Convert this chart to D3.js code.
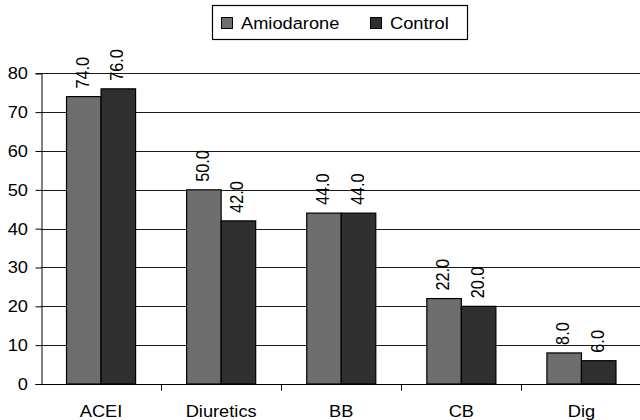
<!DOCTYPE html>
<html>
<head>
<meta charset="utf-8">
<script src="https://cdn.jsdelivr.net/npm/d3@7"></script>
<style>
  body { margin: 0; background: #fff; }
  text { font-family: "Liberation Sans", Arial, sans-serif; fill: #000; }
</style>
</head>
<body>
<div id="chart"></div>
<script>
// chart data
var categories = ["ACEI", "Diuretics", "BB", "CB", "Dig"];
var seriesNames = ["Amiodarone", "Control"];
var amiodarone = [74.0, 50.0, 44.0, 22.0, 8.0];
var control = [76.0, 42.0, 44.0, 20.0, 6.0];
var yTicks = [0, 10, 20, 30, 40, 50, 60, 70, 80];

var colors = ["#6e6e6e", "#2f2f2f"];

var width = 640;
var height = 420;
// plot runs a little past the right edge of the picture
var margin = { top: 73, right: -1.5, bottom: 36, left: 41 };
// the original figure is stretched a bit sideways, so text is too
var fontSize = 16.3;
var stretch = 1.12;

var svg = d3.select("#chart")
  .append("svg")
  .attr("width", width)
  .attr("height", height);

// horizontal text, widened like the source
function label(g, x, y, anchor, txt) {
  return g.append("text")
    .attr("transform", "translate(" + x + "," + y + ") scale(" + stretch + ",1)")
    .attr("text-anchor", anchor)
    .style("font-size", fontSize + "px")
    .text(txt);
}

var x = d3.scaleBand()
  .domain(categories)
  .range([margin.left, width - margin.right]);

var inner = d3.scaleBand()
  .domain(seriesNames)
  .range([0, x.bandwidth() * 0.575]);

var y = d3.scaleLinear()
  .domain([0, 80])
  .range([height - margin.bottom, margin.top + 0.3]);

// gridlines
svg.append("g")
  .selectAll("line")
  .data(yTicks.slice(1))
  .enter()
  .append("line")
  .attr("x1", margin.left)
  .attr("x2", width)
  .attr("y1", d => Math.round(y(d)) + 0.5)
  .attr("y2", d => Math.round(y(d)) + 0.5)
  .style("stroke", "#1a1a1a")
  .style("stroke-width", 1.2);

// y axis
var yAxis = svg.append("g")
  .attr("transform", "translate(" + (margin.left + 0.5) + ",0)")
  .call(d3.axisLeft(y).tickValues(yTicks).tickSize(6).tickFormat(""));
yAxis.select(".domain").attr("stroke", "#000");

var yLabels = svg.append("g");
yTicks.forEach(t => {
  label(yLabels, 28, y(t), "end", t).attr("dy", "0.36em");
});

// x axis with ticks at category boundaries
var xAxisY = Math.round(y(0)) + 0.5;
svg.append("line")
  .attr("x1", margin.left)
  .attr("x2", width)
  .attr("y1", xAxisY)
  .attr("y2", xAxisY)
  .style("stroke", "#000")
  .style("stroke-width", 1.2);

svg.append("g")
  .selectAll("line")
  .data(categories.slice(1))
  .enter()
  .append("line")
  .attr("x1", d => Math.round(x(d)) + 0.5)
  .attr("x2", d => Math.round(x(d)) + 0.5)
  .attr("y1", xAxisY)
  .attr("y2", xAxisY + 6)
  .style("stroke", "#000");

var xLabels = svg.append("g");
categories.forEach(c => {
  label(xLabels, x(c) + x.bandwidth() / 2, 416.7, "middle", c);
});

// bars
var rows = categories.map((c, i) => ({ cat: c, values: [amiodarone[i], control[i]] }));
var groupOffset = (x.bandwidth() - inner.range()[1]) / 2;

var groups = svg.selectAll(".group")
  .data(rows)
  .enter()
  .append("g")
  .attr("class", "group")
  .attr("transform", d => "translate(" + (x(d.cat) + groupOffset) + ",0)");

groups.selectAll("rect")
  .data(d => d.values.map((v, j) => ({ name: seriesNames[j], value: v, j: j })))
  .enter()
  .append("rect")
  .attr("x", d => inner(d.name))
  .attr("y", d => y(d.value))
  .attr("width", inner.bandwidth())
  .attr("height", d => y(0) - y(d.value))
  .style("fill", d => colors[d.j])
  .style("stroke", "#000")
  .style("stroke-width", 1.2);

// value labels, rotated
groups.selectAll(".val")
  .data(d => d.values.map((v, j) => ({ name: seriesNames[j], value: v })))
  .enter()
  .append("text")
  .attr("class", "val")
  .attr("transform", d => "translate(" + (inner(d.name) + inner.bandwidth() / 2 - 1.5) + "," + (y(d.value) - 8) + ") rotate(-90) scale(1," + stretch + ")")
  .attr("dy", "0.36em")
  .attr("text-anchor", "start")
  .style("font-size", fontSize + "px")
  .text(d => d3.format(".1f")(d.value));

// legend
var legend = svg.append("g");
legend.append("rect")
  .attr("x", 212.5)
  .attr("y", 5.5)
  .attr("width", 255)
  .attr("height", 34)
  .style("fill", "#fff")
  .style("stroke", "#000")
  .style("stroke-width", 1.2);

var legendX = [221, 370];
seriesNames.forEach((name, i) => {
  legend.append("rect")
    .attr("x", legendX[i] + 0.5)
    .attr("y", 17.5)
    .attr("width", 11)
    .attr("height", 11)
    .style("fill", colors[i])
    .style("stroke", "#000");
  label(legend, legendX[i] + 20, 29, "start", name);
});
</script>
</body>
</html>
